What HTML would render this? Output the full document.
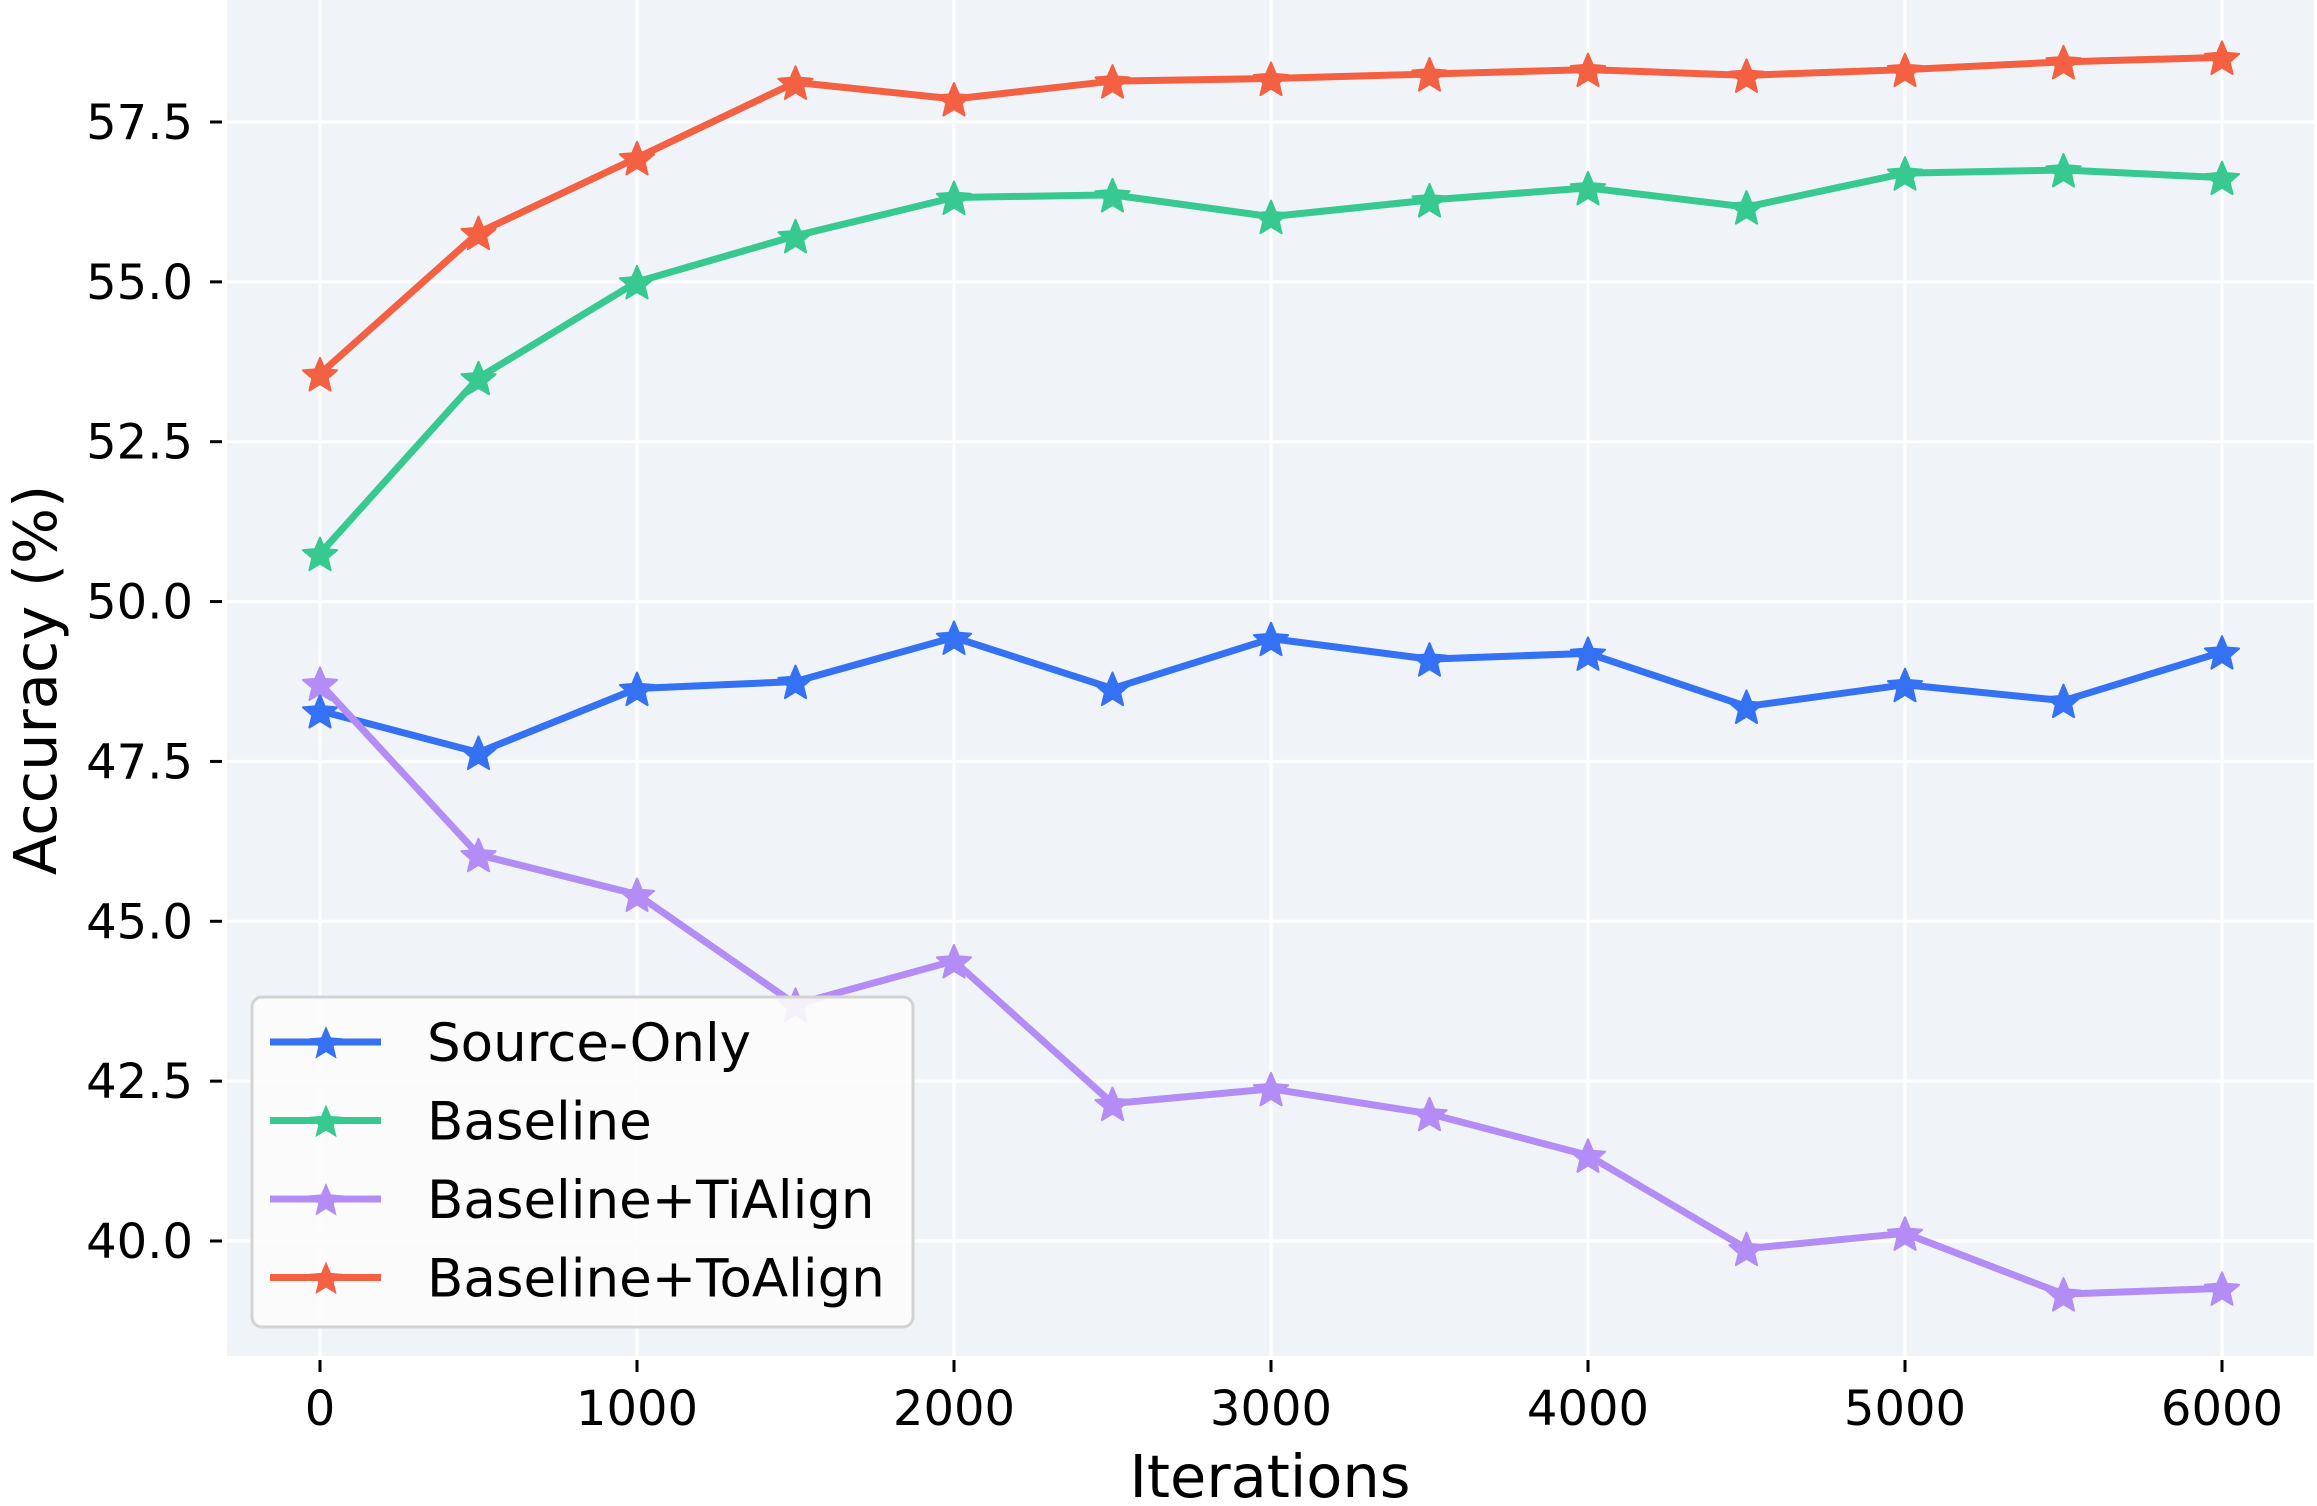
<!DOCTYPE html>
<html><head><meta charset="utf-8"><style>
html,body{margin:0;padding:0;background:#fff;}
svg{display:block;font-family:"DejaVu Sans","Liberation Sans",sans-serif;}
</style></head><body>
<svg id="chart" width="2317" height="1506" viewBox="0 0 2317 1506" xmlns="http://www.w3.org/2000/svg">
<rect x="227" y="0" width="2087" height="1356" fill="#f0f4f9"/>
<g id="grid"></g>
<g id="axes"></g>
<g id="series"></g>
<g id="legend"></g>
<text x="1270" y="1497" font-size="59" text-anchor="middle">Iterations</text>
<text transform="translate(56,680) rotate(-90)" font-size="59" text-anchor="middle">Accuracy (%)</text>
</svg>
<script>
const iterations = [0,500,1000,1500,2000,2500,3000,3500,4000,4500,5000,5500,6000];
const sourceOnly = [48.29,47.64,48.64,48.75,49.44,48.64,49.42,49.1,49.19,48.36,48.7,48.45,49.21];
const baseline = [50.75,53.5,55.0,55.72,56.32,56.36,56.02,56.28,56.47,56.17,56.7,56.75,56.63];
const tiAlign = [48.72,46.04,45.42,43.7,44.38,42.15,42.38,41.99,41.34,39.88,40.12,39.17,39.26];
const toAlign = [53.56,55.77,56.94,58.12,57.86,58.14,58.18,58.25,58.32,58.23,58.32,58.44,58.51];
const xTicks = [0,1000,2000,3000,4000,5000,6000];
const yTicks = [40,42.5,45,47.5,50,52.5,55,57.5];
const yTickLabels = ["40.0","42.5","45.0","47.5","50.0","52.5","55.0","57.5"];
const seriesNames = ["Source-Only","Baseline","Baseline+TiAlign","Baseline+ToAlign"];
const seriesColors = ["#3571f3","#37c98f","#b48cf5","#f46042"];

const NS="http://www.w3.org/2000/svg";
const xS = v => 320 + v*(2222-320)/6000;
const yS = v => 122 + (57.5-v)*(1241-122)/17.5;
function mk(tag, attrs, parent){const e=document.createElementNS(NS,tag);for(const k in attrs)e.setAttribute(k,attrs[k]);parent.appendChild(e);return e;}
function starPts(cx,cy,R){const r=R*0.45;let p=[];for(let i=0;i<10;i++){const a=-Math.PI/2+i*Math.PI/5;const rr=i%2?r:R;p.push((cx+rr*Math.cos(a)).toFixed(1)+","+(cy+rr*Math.sin(a)).toFixed(1));}return p.join(" ");}

const grid=document.getElementById('grid'), axes=document.getElementById('axes');
xTicks.forEach(t=>{
  const g=mk('line',{x1:xS(t),x2:xS(t),y1:0,y2:1356,stroke:'#fff','stroke-width':3},grid);
  
  
  const tk=mk('line',{x1:xS(t),x2:xS(t),y1:1360,y2:1372,stroke:'#000','stroke-width':3},axes);
  
  
  const tx=mk('text',{x:xS(t),y:1425,'font-size':48,'text-anchor':'middle'},axes);
  tx.textContent=t;
  
  
});
yTicks.forEach((t,i)=>{
  const g=mk('line',{x1:227,x2:2314,y1:yS(t),y2:yS(t),stroke:'#fff','stroke-width':3},grid);
  
  
  const tk=mk('line',{x1:210,x2:222,y1:yS(t),y2:yS(t),stroke:'#000','stroke-width':3},axes);
  
  
  const tx=mk('text',{x:193,y:yS(t)+17,'font-size':48,'text-anchor':'end'},axes);
  tx.textContent=yTickLabels[i];
  
  
});

const ser=document.getElementById('series');
[sourceOnly,baseline,tiAlign,toAlign].forEach((vals,si)=>{
  const g=mk('g',{},ser);
  
  
  const pts=vals.map((v,i)=>xS(iterations[i])+","+yS(v)).join(" ");
  const pl=mk('polyline',{points:pts,fill:'none',stroke:seriesColors[si],'stroke-width':7,'stroke-linejoin':'round'},g);
  
  
  vals.forEach((v,i)=>{
    const s=mk('polygon',{points:starPts(xS(iterations[i]),yS(v)+2,18),fill:seriesColors[si],stroke:seriesColors[si],'stroke-width':2,'stroke-linejoin':'round'},g);
    
    
  });
});

const lg=document.getElementById('legend');
const box=mk('rect',{x:252,y:997,width:661,height:330,rx:10,fill:'#fcfcfc','fill-opacity':0.9,stroke:'#d3d3d3','stroke-width':3},lg);


seriesNames.forEach((n,i)=>{
  const y=1042+i*78.5;
  const g=mk('g',{},lg);
  
  
  mk('line',{x1:270,x2:381,y1:y,y2:y,stroke:seriesColors[i],'stroke-width':7},g);
  mk('polygon',{points:starPts(326,y+2,18),fill:seriesColors[i]},g);
  const t=mk('text',{x:427,y:y+19,'font-size':53},g);
  t.textContent=n;
});
</script>
</body></html>
